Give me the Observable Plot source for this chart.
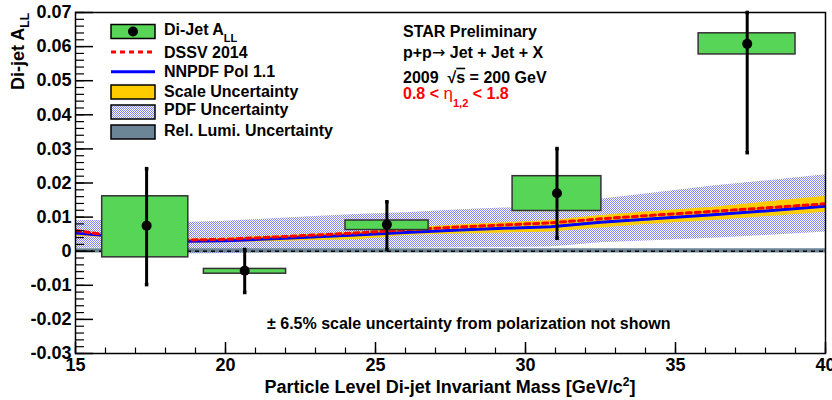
<!DOCTYPE html>
<html><head><meta charset="utf-8">
<script src="https://cdn.jsdelivr.net/npm/d3@7"></script>
<script src="https://cdn.jsdelivr.net/npm/@observablehq/plot@0.6"></script>
<style>body{margin:0;background:#fff} #chart{width:832px;height:400px}</style>
</head><body><div id="chart"></div>
<script>
// ---- Measured di-jet A_LL ----
const massX  = [17.37, 20.64, 25.38, 31.05, 37.39];
const allVal = [0.0075, -0.0057, 0.0078, 0.0170, 0.0608];
const binX0  = [15.89, 19.28, 24.00, 29.57, 35.77];
const binX1  = [18.76, 22.02, 26.77, 32.53, 39.00];
const sysLo  = [-0.0018, -0.0066, 0.0062, 0.0118, 0.0577];
const sysHi  = [0.0161, -0.0052, 0.0090, 0.0220, 0.0639];
const statLo = [-0.0098, -0.0121, 0.0005, 0.0038, 0.0289];
const statHi = [0.0242, 0.0005, 0.0145, 0.0301, 0.0700];

// ---- Theory curves ----
const thX     = [15, 16, 18.8, 20, 22, 24.5, 26, 28, 30.85, 32.5, 34, 36.25, 38, 40];
const dssv    = [0.0061, 0.0048, 0.0033, 0.0035, 0.0043, 0.0054, 0.0063, 0.0072, 0.0083, 0.0095, 0.0104, 0.0117, 0.0127, 0.0139];
const nnpdf   = [0.0053, 0.0046, 0.0029, 0.0031, 0.0038, 0.0048, 0.0055, 0.0063, 0.0072, 0.0085, 0.0094, 0.0107, 0.0118, 0.0132];
const scaleLo = [0.0043, 0.0040, 0.0023, 0.0025, 0.0029, 0.0034, 0.0046, 0.0051, 0.0056, 0.0068, 0.0078, 0.0090, 0.0101, 0.0114];
const scaleHi = [0.0055, 0.0048, 0.0036, 0.0038, 0.0046, 0.0056, 0.0067, 0.0078, 0.0090, 0.0105, 0.0115, 0.0129, 0.0144, 0.0161];
const pdfLo   = [0.0009, 0.0009, -0.0008, -0.0007, -0.0004, 0.0004, 0.0009, 0.0010, 0.0012, 0.0025, 0.0030, 0.0038, 0.0046, 0.0056];
const pdfHi   = [0.0090, 0.0090, 0.0085, 0.0088, 0.0097, 0.0108, 0.0113, 0.0122, 0.0132, 0.0152, 0.0168, 0.0191, 0.0206, 0.0224];

// ---- Relative luminosity band ----
const lumiX  = [15, 40];
const lumiLo = [-0.0005, -0.0005];
const lumiHi = [0.0007, 0.0007];

// ---- Axis ticks ----
const yMajor = [-0.03, -0.02, -0.01, 0, 0.01, 0.02, 0.03, 0.04, 0.05, 0.06, 0.07];
const yLabels = ["-0.03", "-0.02", "-0.01", "0", "0.01", "0.02", "0.03", "0.04", "0.05", "0.06", "0.07"];
const yMinor = d3.range(-30, 71, 2).map(v => v / 1000);
const xMajor = [15, 20, 25, 30, 35, 40];
const xLabels = ["15", "20", "25", "30", "35", "40"];
const xMinor = d3.range(15, 41, 1);

const W = 832, H = 400, mL = 75, mR = 7, mT = 12, mB = 47;
const fw = W - mL - mR, fh = H - mT - mB;
const FONT = "'Liberation Sans', Arial, Helvetica, sans-serif";

const bins = massX.map((x, i) => ({x, val: allVal[i], x0: binX0[i], x1: binX1[i], sysLo: sysLo[i], sysHi: sysHi[i], statLo: statLo[i], statHi: statHi[i]}));
const caps = bins.flatMap(b => [{x: b.x, y: b.statLo}, {x: b.x, y: b.statHi}]);
const theory = thX.map((x, i) => ({x, dssv: dssv[i], nnpdf: nnpdf[i], scaleLo: scaleLo[i], scaleHi: scaleHi[i], pdfLo: pdfLo[i], pdfHi: pdfHi[i]}));
const lumi = lumiX.map((x, i) => ({x, lo: lumiLo[i], hi: lumiHi[i]}));

const GREEN = "#57d557", YELLOW = "#ffcc00", LUMI = "#6c8596";

const svg = Plot.plot({
  width: W, height: H, marginLeft: mL, marginRight: mR, marginTop: mT, marginBottom: mB,
  x: {domain: [15, 40], axis: null},
  y: {domain: [-0.03, 0.07], axis: null},
  style: {fontFamily: FONT, background: "white", overflow: "visible"},
  marks: [
    Plot.areaY(theory, {x: "x", y1: "pdfLo", y2: "pdfHi", fill: "url(#pdfHatch)", clip: true}),
    Plot.areaY(theory, {x: "x", y1: "scaleLo", y2: "scaleHi", fill: YELLOW, clip: true}),
    Plot.areaY(lumi, {x: "x", y1: "lo", y2: "hi", fill: LUMI}),
    Plot.ruleY([0], {stroke: "black", strokeWidth: 1.5, strokeDasharray: "4,4"}),
    Plot.line(theory, {x: "x", y: "nnpdf", stroke: "#0000ff", strokeWidth: 3, clip: true}),
    Plot.line(theory, {x: "x", y: "dssv", stroke: "#ff0000", strokeWidth: 3, strokeDasharray: "5,4", clip: true}),
    Plot.rect(bins, {x1: "x0", x2: "x1", y1: "sysLo", y2: "sysHi", fill: GREEN, stroke: "#333", strokeWidth: 1.5}),
    Plot.ruleX(bins, {x: "x", y1: "statLo", y2: "statHi", stroke: "black", strokeWidth: 3, clip: true}),
    Plot.dot(caps, {x: "x", y: "y", symbol: "square", r: 2, fill: "black", stroke: null}),
    Plot.dot(bins, {x: "x", y: "val", r: 5, fill: "black", stroke: null}),
    Plot.tickY(yMinor, {y: d => d, insetRight: fw - 9, stroke: "black", strokeWidth: 1.2}),
    Plot.tickY(yMajor, {y: d => d, insetRight: fw - 18, stroke: "black", strokeWidth: 1.5}),
    Plot.tickX(xMinor, {x: d => d, insetTop: fh - 5.5, stroke: "black", strokeWidth: 1.2}),
    Plot.tickX(xMajor, {x: d => d, insetTop: fh - 11, stroke: "black", strokeWidth: 1.5}),
    Plot.frame({stroke: "black", strokeWidth: 1.5}),
    Plot.text(yMajor, {y: d => d, text: (d, i) => yLabels[i], frameAnchor: "left", textAnchor: "end", lineAnchor: "middle", dx: -4, fontSize: 18, fontWeight: "bold", fill: "black"}),
    Plot.text(xMajor, {x: d => d, text: (d, i) => xLabels[i], frameAnchor: "bottom", lineAnchor: "top", dy: 5, fontSize: 18, fontWeight: "bold", fill: "black"})
  ]
});

const s = d3.select(svg);
const defs = s.insert("defs", ":first-child");
const pat = defs.append("pattern").attr("id", "pdfHatch").attr("patternUnits", "userSpaceOnUse")
  .attr("width", 2).attr("height", 2);
pat.append("rect").attr("x", 0).attr("y", 0).attr("width", 2).attr("height", 2).attr("fill", "#ffffff");
pat.append("rect").attr("x", 0).attr("y", 0).attr("width", 1).attr("height", 1).attr("fill", "#8282f0");
pat.append("rect").attr("x", 1).attr("y", 1).attr("width", 1).attr("height", 1).attr("fill", "#8282f0");

const ann = s.append("g").attr("font-family", FONT).attr("font-weight", "bold").attr("fill", "black").attr("text-anchor", "start");

// Axis titles
const yt = ann.append("text").attr("transform", "translate(24,13) rotate(-90)").attr("text-anchor", "end").attr("font-size", 18);
yt.append("tspan").text("Di-jet A");
yt.append("tspan").attr("font-size", 12).attr("dy", 5).text("LL");
const xt = ann.append("text").attr("x", 450).attr("y", 393).attr("text-anchor", "middle").attr("font-size", 18);
xt.append("tspan").text("Particle Level Di-jet Invariant Mass [GeV/c");
xt.append("tspan").attr("font-size", 12).attr("dy", -7).text("2");
xt.append("tspan").attr("dy", 7).text("]");

// Legend
const lg = ann.append("g");
const bx = 111, bw = 44, tx = 164;
lg.append("rect").attr("x", bx).attr("y", 24.5).attr("width", bw).attr("height", 14).attr("fill", GREEN).attr("stroke", "black").attr("stroke-width", 1.5);
lg.append("circle").attr("cx", bx + bw / 2).attr("cy", 31.5).attr("r", 5).attr("fill", "black");
lg.append("line").attr("x1", bx).attr("x2", bx + bw).attr("y1", 52).attr("y2", 52).attr("stroke", "#ff0000").attr("stroke-width", 3).attr("stroke-dasharray", "5,4");
lg.append("line").attr("x1", bx).attr("x2", bx + bw).attr("y1", 71.7).attr("y2", 71.7).attr("stroke", "#0000ff").attr("stroke-width", 3);
lg.append("rect").attr("x", bx).attr("y", 85).attr("width", bw).attr("height", 14).attr("fill", YELLOW).attr("stroke", "black").attr("stroke-width", 1.5);
lg.append("rect").attr("x", bx).attr("y", 105).attr("width", bw).attr("height", 14).attr("fill", "url(#pdfHatch)").attr("stroke", "black").attr("stroke-width", 1.5);
lg.append("rect").attr("x", bx).attr("y", 125).attr("width", bw).attr("height", 14).attr("fill", LUMI).attr("stroke", "black").attr("stroke-width", 1.5);
const t1 = lg.append("text").attr("x", tx).attr("y", 35).attr("font-size", 16);
t1.append("tspan").text("Di-Jet A");
t1.append("tspan").attr("font-size", 11).attr("dy", 6.5).text("LL");
lg.append("text").attr("x", tx).attr("y", 57.7).attr("font-size", 16).text("DSSV 2014");
lg.append("text").attr("x", tx).attr("y", 77.3).attr("font-size", 16).text("NNPDF Pol 1.1");
lg.append("text").attr("x", tx).attr("y", 96.7).attr("font-size", 16).text("Scale Uncertainty");
lg.append("text").attr("x", tx).attr("y", 115).attr("font-size", 16).text("PDF Uncertainty");
lg.append("text").attr("x", tx).attr("y", 135.7).attr("font-size", 16).text("Rel. Lumi. Uncertainty");

// STAR text
const sx = 403;
ann.append("text").attr("x", sx).attr("y", 36.7).attr("font-size", 16).text("STAR Preliminary");
const t2 = ann.append("text").attr("x", sx).attr("y", 58.3).attr("font-size", 16);
t2.append("tspan").text("p+p");
t2.append("tspan").attr("font-family", "'DejaVu Sans', sans-serif").attr("font-weight", "normal").attr("font-size", 16).text("\u2192");
t2.append("tspan").text(" Jet + Jet + X");
const t3 = ann.append("text").attr("x", sx).attr("y", 82.7).attr("font-size", 16);
t3.append("tspan").text("2009  \u221A");
t3.append("tspan").attr("text-decoration", "overline").text("s");
t3.append("tspan").text(" = 200 GeV");
const t4 = ann.append("text").attr("x", sx).attr("y", 98.5).attr("font-size", 16).attr("fill", "#ff0000");
t4.append("tspan").text("0.8 < ");
t4.append("tspan").attr("font-weight", "normal").attr("font-size", 17).text("\u03B7");
t4.append("tspan").attr("font-size", 11).attr("dy", 8).text("1,2");
t4.append("tspan").attr("dy", -8).text(" < 1.8");

// Note
ann.append("text").attr("x", 267).attr("y", 329).attr("font-size", 16).text("\u00B1 6.5% scale uncertainty from polarization not shown");

document.getElementById("chart").appendChild(svg);
</script>
</body></html>
